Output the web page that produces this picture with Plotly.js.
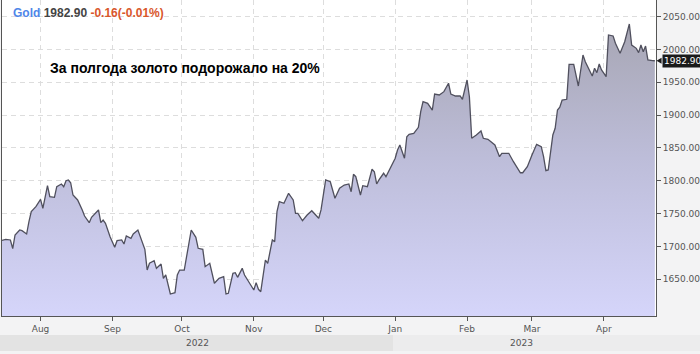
<!DOCTYPE html>
<html>
<head>
<meta charset="utf-8">
<script src="https://cdn.plot.ly/plotly-3.0.1.min.js"></script>
<style>html,body{margin:0;padding:0;background:#f3f3f4;}#chart{width:700px;height:354px;}</style>
</head>
<body>
<div id="chart"></div>
<script>
const dates = [
'2022-07-15','2022-07-17','2022-07-19','2022-07-20','2022-07-21','2022-07-23','2022-07-24','2022-07-26','2022-07-27','2022-07-28','2022-07-30',
'2022-08-01','2022-08-02','2022-08-03','2022-08-04','2022-08-05','2022-08-07','2022-08-08','2022-08-10','2022-08-11','2022-08-12','2022-08-13','2022-08-14','2022-08-15','2022-08-17','2022-08-19','2022-08-20','2022-08-22','2022-08-23','2022-08-26','2022-08-27','2022-08-28','2022-08-29','2022-08-31',
'2022-09-02','2022-09-03','2022-09-05','2022-09-06','2022-09-07','2022-09-09','2022-09-10','2022-09-12','2022-09-13','2022-09-15','2022-09-16','2022-09-17','2022-09-19','2022-09-20','2022-09-22','2022-09-23','2022-09-24','2022-09-25','2022-09-26','2022-09-28','2022-09-29','2022-09-30',
'2022-10-02','2022-10-03','2022-10-05','2022-10-07','2022-10-08','2022-10-10','2022-10-11','2022-10-13','2022-10-15','2022-10-17','2022-10-19','2022-10-20','2022-10-21','2022-10-23','2022-10-24','2022-10-25','2022-10-27','2022-10-28','2022-10-30',
'2022-11-01','2022-11-02','2022-11-03','2022-11-04','2022-11-06','2022-11-07','2022-11-09','2022-11-10','2022-11-11','2022-11-12','2022-11-14','2022-11-16','2022-11-18','2022-11-19','2022-11-20','2022-11-22','2022-11-24','2022-11-26','2022-11-27','2022-11-29','2022-11-30',
'2022-12-02','2022-12-04','2022-12-06','2022-12-08','2022-12-10','2022-12-12','2022-12-13','2022-12-14','2022-12-15','2022-12-17','2022-12-18','2022-12-20','2022-12-22','2022-12-23','2022-12-24','2022-12-25','2022-12-27','2022-12-28','2022-12-30',
'2023-01-01','2023-01-02','2023-01-03','2023-01-05','2023-01-06','2023-01-07','2023-01-09','2023-01-11','2023-01-12','2023-01-13','2023-01-15','2023-01-17','2023-01-18','2023-01-20','2023-01-22','2023-01-24','2023-01-25','2023-01-27','2023-01-29','2023-01-30',
'2023-02-01','2023-02-02','2023-02-03','2023-02-05','2023-02-07','2023-02-08','2023-02-10','2023-02-13','2023-02-15','2023-02-16','2023-02-19','2023-02-21','2023-02-24','2023-02-25','2023-02-27',
'2023-03-01','2023-03-03','2023-03-05','2023-03-06','2023-03-07','2023-03-08','2023-03-10','2023-03-11','2023-03-12','2023-03-13','2023-03-14','2023-03-16','2023-03-17','2023-03-19','2023-03-21','2023-03-22','2023-03-23','2023-03-24','2023-03-25','2023-03-27','2023-03-28','2023-03-29','2023-03-30','2023-03-31',
'2023-04-02','2023-04-03','2023-04-05','2023-04-06','2023-04-08','2023-04-10','2023-04-12','2023-04-13','2023-04-15','2023-04-16','2023-04-17','2023-04-18','2023-04-19','2023-04-20','2023-04-22','2023-04-23'
];
const prices = [
1708.8,1710.9,1709.9,1696.6,1717.5,1725.1,1724.0,1719.0,1737.7,1753.0,1760.6,
1771.8,1758.2,1775.8,1792.6,1775.8,1774.9,1791.1,1795.2,1791.1,1800.1,1801.3,1797.1,1778.4,1770.8,1755.6,1746.4,1736.2,1744.5,1755.6,1736.2,1740.3,1735.3,1714.9,
1698.7,1708.8,1709.9,1703.7,1716.0,1712.4,1719.0,1725.1,1714.9,1695.7,1664.1,1674.4,1678.3,1666.7,1673.3,1651.5,1656.6,1644.0,1627.6,1629.6,1656.6,1664.1,
1664.1,1684.4,1725.1,1713.9,1697.2,1695.7,1669.2,1674.4,1644.0,1651.5,1653.9,1627.6,1628.7,1659.2,1660.1,1653.0,1666.7,1656.6,1644.0,
1633.7,1644.9,1634.8,1631.1,1679.4,1674.4,1709.9,1707.3,1753.0,1768.2,1765.8,1781.0,1770.8,1750.5,1750.5,1739.2,1747.9,1754.5,1750.5,1742.9,1755.6,
1801.3,1798.6,1773.4,1788.6,1793.6,1795.2,1783.4,1809.9,1806.3,1778.4,1792.6,1791.1,1817.6,1813.9,1795.2,1801.3,1811.5,1806.3,1821.5,
1834.3,1846.9,1854.6,1834.3,1867.2,1870.8,1872.3,1881.5,1905.3,1920.5,1918.1,1907.8,1932.2,1930.7,1935.8,1948.6,1932.2,1929.2,1929.2,1924.2,
1953.6,1928.1,1864.8,1869.8,1875.9,1864.8,1863.3,1854.6,1836.7,1841.9,1841.9,1829.1,1812.3,1812.3,1821.5,
1839.4,1855.6,1852.0,1836.7,1815.4,1816.5,1869.8,1880.0,1907.8,1912.0,1923.1,1924.2,1977.5,1977.5,1944.4,1966.2,1991.6,1981.4,1973.9,1959.7,1971.4,1964.7,1977.9,1968.8,
1958.7,2022.2,2020.6,2009.5,1994.3,2011.9,2038.9,2006.8,2001.8,1995.2,2006.8,1996.7,2005.3,1984.1,1983.0,1982.9
];
const yTicks = [1650,1700,1750,1800,1850,1900,1950,2000,2050];
const lastPrice = 1982.90;
const change = '-0.16(-0.01%)';
const symbol = 'Gold';
const yearLabels = ['2022','2023'];
const headline = 'За полгода золото подорожало на 20%';

const trace = {
  x: dates, y: prices, type: 'scatter', mode: 'lines',
  line: {color: '#50505e', width: 1.3},
  fill: 'tozeroy',
  fillgradient: {type: 'vertical', start: 1594, stop: 2075,
    colorscale: [[0, '#d5d5fa'], [0.5, '#bdbdd9'], [1, '#a3a2ad']]},
  hoverinfo: 'skip'
};

const layout = {
  width: 700, height: 354,
  margin: {l: 2, r: 44, t: 0, b: 38, pad: 0},
  paper_bgcolor: '#f3f3f4', plot_bgcolor: '#ffffff',
  showlegend: false,
  font: {family: 'DejaVu Sans', size: 9, color: '#555'},
  xaxis: {
    type: 'date', range: ['2022-07-15 09:00', '2023-04-23 12:00'],
    tick0: '2022-08-01', dtick: 'M1', tickformat: '%b',
    ticks: 'outside', ticklen: 4, tickcolor: '#555',
    showgrid: true, gridcolor: '#dddddd', griddash: '5px,4px',
    showline: true, linecolor: '#555', linewidth: 1, mirror: true,
    tickfont: {family: 'DejaVu Sans', size: 9, color: '#555'},
    automargin: false, fixedrange: true, zeroline: false
  },
  yaxis: {
    side: 'right', range: [1594.1, 2075.4],
    tickvals: yTicks, tickformat: '.2f',
    ticks: 'outside', ticklen: 4, tickcolor: '#555',
    showgrid: true, gridcolor: '#dddddd', griddash: '5px,4px',
    showline: true, linecolor: '#555', linewidth: 1, mirror: true,
    tickfont: {family: 'DejaVu Sans', size: 9, color: '#555'},
    automargin: false, fixedrange: true, zeroline: false
  },
  shapes: [
    {type: 'rect', xref: 'paper', yref: 'paper', x0: -0.0031, x1: 0.5979, y0: -0.0601, y1: -0.1108,
     fillcolor: '#e3e3e3', line: {width: 0}, layer: 'below'},
    {type: 'rect', xref: 'paper', yref: 'paper', x0: 0.5979, x1: 1.0673, y0: -0.0601, y1: -0.1108,
     fillcolor: '#ececed', line: {width: 0}, layer: 'below'},
    {type: 'path', xref: 'paper', yref: 'y',
     path: 'M 1.0008,1982.9 L 1.0085,1987.6 L 1.0085,1978.2 Z',
     fillcolor: '#1a1a1a', line: {width: 0}}
  ],
  annotations: [
    {xref: 'paper', yref: 'paper', x: 0.0138, y: 0.9604, xanchor: 'left', yanchor: 'middle', showarrow: false,
     text: '<b><span style="color:#4f86e8">' + symbol + '</span> <span style="color:#444444">' + lastPrice.toFixed(2) +
           '</span> <span style="color:#d9572b">' + change + '</span></b>',
     font: {family: 'Liberation Sans', size: 12}},
    {xref: 'paper', yref: 'paper', x: 0.0703, y: 0.7848, xanchor: 'left', yanchor: 'middle', showarrow: false,
     text: '<b>' + headline + '</b>', font: {family: 'Liberation Sans', size: 14, color: '#000'}},
    {xref: 'paper', yref: 'y', x: 1.0085, y: lastPrice, xanchor: 'left', yanchor: 'middle', showarrow: false,
     text: lastPrice.toFixed(2), bgcolor: '#1a1a1a', borderpad: 1,
     font: {family: 'DejaVu Sans', size: 9, color: '#ffffff'}},
    {xref: 'paper', yref: 'paper', x: 0.2982, y: -0.0854, xanchor: 'center', yanchor: 'middle', showarrow: false,
     text: yearLabels[0], font: {family: 'DejaVu Sans', size: 9, color: '#555'}},
    {xref: 'paper', yref: 'paper', x: 0.795, y: -0.0854, xanchor: 'center', yanchor: 'middle', showarrow: false,
     text: yearLabels[1], font: {family: 'DejaVu Sans', size: 9, color: '#555'}}
  ]
};

Plotly.newPlot('chart', [trace], layout, {staticPlot: true, displayModeBar: false});
</script>
</body>
</html>
